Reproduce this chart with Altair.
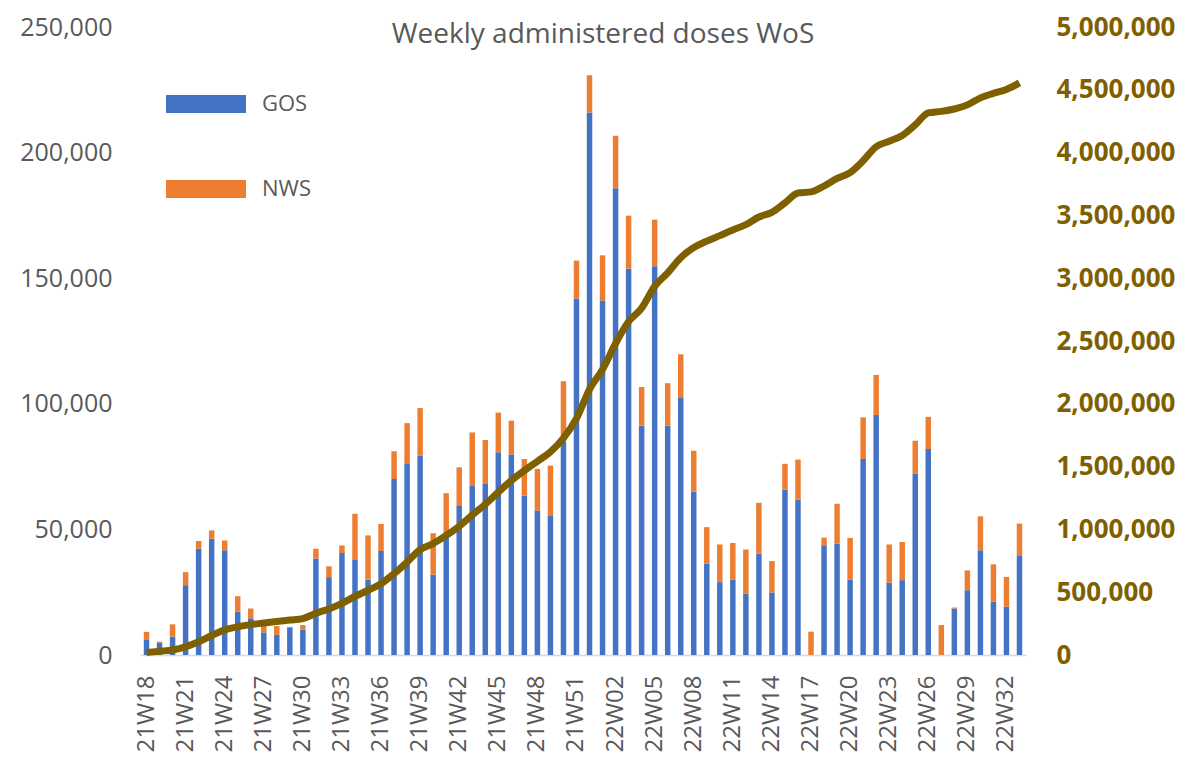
import altair as alt
import pandas as pd

weeks = [f"21W{w:02d}" for w in range(18, 53)] + [f"22W{w:02d}" for w in range(1, 34)]

gos = [6000, 5000, 7300, 27800, 42300, 46300, 41700, 17200, 14600, 9000,
       8000, 11000, 10000, 38400, 31000, 40600, 38100, 30000, 41400, 70100,
       76300, 79400, 32000, 47000, 59300, 67300, 68100, 80700, 79800, 63500,
       57500, 55600, 85000, 141900, 216000, 141100, 185800, 153800, 91300, 154800,
       91300, 102300, 65100, 36400, 29000, 30000, 24500, 40300, 24900, 65800,
       61800, 0, 43700, 44300, 30000, 78000, 95600, 28800, 29800, 72100,
       82000, 0, 18500, 25800, 41700, 21200, 19200, 39700]

nws = [3200, 300, 4900, 5200, 3100, 3300, 3900, 6200, 3900, 4000,
       3500, 200, 1900, 3900, 4300, 3000, 18100, 17600, 10800, 11000,
       16000, 18900, 16500, 17400, 15400, 21300, 17500, 15800, 13500, 14500,
       16600, 19800, 24000, 15100, 14800, 18000, 20900, 21100, 15400, 18500,
       16900, 17400, 16200, 14500, 15000, 14600, 17500, 20300, 12500, 10300,
       16000, 9300, 3000, 15900, 16600, 16600, 15900, 15200, 15200, 13200,
       12800, 11900, 400, 7900, 13500, 14900, 11900, 12600]

cumulative = [20000, 30000, 40000, 65000, 105000, 155000, 200000, 224000, 242000, 255000,
              267000, 278000, 290000, 332000, 367000, 411000, 467000, 515000, 567000, 648000,
              740000, 839000, 887000, 952000, 1026000, 1115000, 1200000, 1297000, 1390000, 1468000,
              1542000, 1618000, 1727000, 1884000, 2115000, 2274000, 2480000, 2655000, 2762000, 2935000,
              3043000, 3163000, 3244000, 3295000, 3339000, 3384000, 3426000, 3487000, 3524000, 3600000,
              3678000, 3687000, 3734000, 3794000, 3841000, 3935000, 4047000, 4091000, 4136000, 4221000,
              4316000, 4328000, 4347000, 4380000, 4436000, 4472000, 4503000, 4555000]

series = ["GOS", "NWS"]
colors = ["#4472C4", "#ED7D31"]
line_color = "#7F6000"
left_ticks = [0, 50000, 100000, 150000, 200000, 250000]
right_ticks = [0, 500000, 1000000, 1500000, 2000000, 2500000, 3000000, 3500000, 4000000, 4500000, 5000000]
week_ticks = weeks[::3]

bars_df = pd.DataFrame(
    [{"week": w, "series": "GOS", "value": g, "ord": 0} for w, g in zip(weeks, gos)]
    + [{"week": w, "series": "NWS", "value": n, "ord": 1} for w, n in zip(weeks, nws)]
)
line_df = pd.DataFrame({"week": weeks, "cum": cumulative})

FONT = "Open Sans"
GRAY = "#595959"

x_enc = alt.X(
    "week:N",
    sort=weeks,
    scale=alt.Scale(paddingInner=0.58, paddingOuter=0.29),
    axis=alt.Axis(
        values=week_ticks, labelAngle=-90, labelFontSize=24, labelColor=GRAY,
        labelFont=FONT, ticks=False, domainColor="#D9D9D9", domainWidth=1.5,
        labelPadding=20, title=None,
    ),
)

bars = alt.Chart(bars_df).mark_bar().encode(
    x=x_enc,
    y=alt.Y(
        "value:Q", stack="zero",
        scale=alt.Scale(domain=[0, 250000], nice=False),
        axis=alt.Axis(
            values=left_ticks, format=",.0f", labelFontSize=25, labelColor=GRAY,
            labelFont=FONT, grid=False, domain=False, ticks=False,
            labelPadding=28, title=None,
        ),
    ),
    color=alt.Color(
        "series:N",
        scale=alt.Scale(domain=series, range=colors),
        legend=alt.Legend(
            title=None, orient="none", legendX=26, legendY=37, direction="vertical",
            symbolType="M-1,-0.225L1,-0.225L1,0.225L-1,0.225Z", symbolSize=6400,
            symbolStrokeWidth=0, labelFontSize=22, labelFont=FONT, labelColor=GRAY,
            labelOffset=16, rowPadding=34,
        ),
    ),
    order=alt.Order("ord:Q"),
)

line = alt.Chart(line_df).mark_line(
    color=line_color, strokeWidth=7, interpolate="monotone"
).encode(
    x=alt.X("week:N", sort=weeks),
    y=alt.Y(
        "cum:Q",
        scale=alt.Scale(domain=[0, 5000000], nice=False),
        axis=alt.Axis(
            orient="right", values=right_ticks, format=",.0f", labelFontSize=26,
            labelColor=line_color, labelFontWeight="bold", labelFont=FONT,
            grid=False, domain=False, ticks=False, labelPadding=30, title=None,
        ),
    ),
)

chart = alt.layer(bars, line).resolve_scale(y="independent").properties(
    width=886,
    height=628,
    autosize=alt.AutoSizeParams(type="none"),
    padding={"left": 132, "top": 19, "right": 160, "bottom": 101},
    title=alt.TitleParams(
        "Weekly administered doses WoS", fontSize=28, font=FONT, color=GRAY,
        fontWeight="normal", offset=-35, dx=20,
    ),
).configure_view(stroke=None)

chart.save("out.html", embed_options={"renderer": "svg", "actions": False})
